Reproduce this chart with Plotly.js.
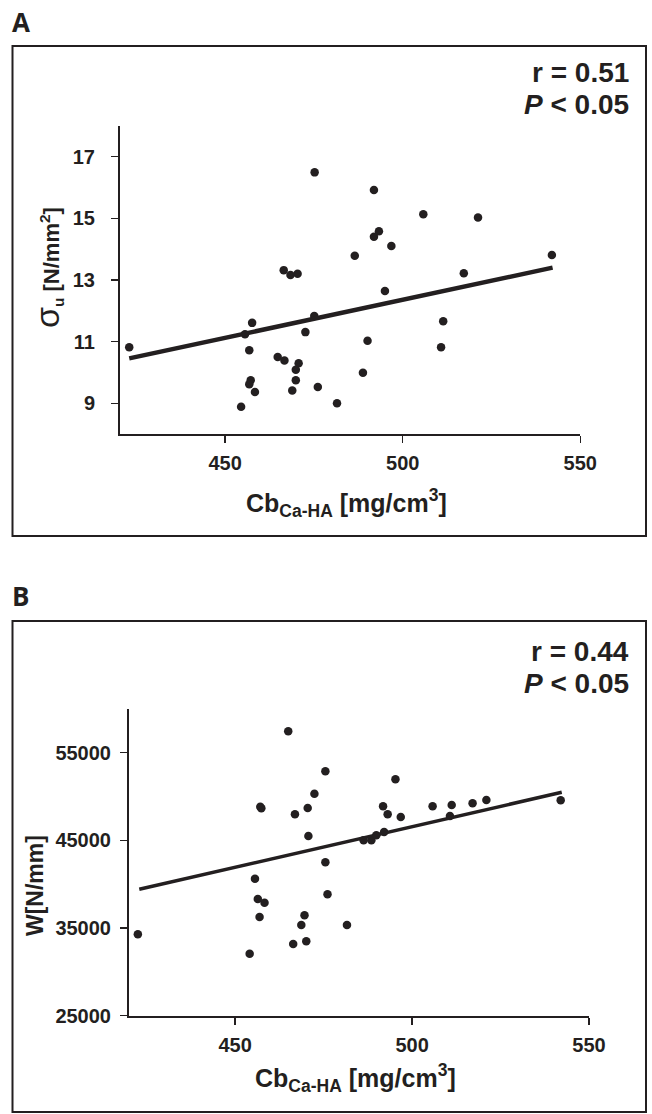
<!DOCTYPE html>
<html>
<head>
<meta charset="utf-8">
<script src="https://cdn.plot.ly/plotly-3.0.1.min.js"></script>
<style>html,body{margin:0;padding:0;background:#fff;}#chart{width:652px;height:1114px;}</style>
</head>
<body>
<div id="chart"></div>
<script>
// Panel A: ultimate stress vs Ca-HA density
var aX = [423.0,454.5,457.6,455.6,456.8,457.2,456.8,458.4,464.8,466.7,466.5,468.4,470.4,470.7,469.9,469.9,468.9,472.6,475.1,475.2,476.1,481.5,486.5,488.8,490.1,491.9,491.9,493.3,495.0,496.8,505.8,511.4,510.8,517.2,521.2,542.0];
var aY = [10.82,8.89,11.61,11.24,10.72,9.75,9.62,9.37,10.50,10.39,13.32,13.16,13.20,10.30,10.09,9.75,9.42,11.31,11.83,16.49,9.53,9.00,13.79,9.99,11.03,15.92,14.40,14.58,12.64,14.10,15.13,11.66,10.82,13.22,15.03,13.81];
var aFitX = [423.0, 542.2];
var aFitY = [10.46, 13.40];
var aTicksX = [450, 500, 550];
var aTickTextX = ['450', '500', '550'];
var aTicksY = [9, 11, 13, 15, 17];
var aTickTextY = ['9', '11', '13', '15', '17'];

// Panel B: W vs Ca-HA density
var bX = [422.5,454.1,465.0,457.1,457.4,455.6,456.4,458.3,456.9,466.9,470.5,472.4,475.5,470.7,475.5,476.1,469.6,468.7,466.4,470.1,481.6,486.3,488.5,489.9,492.1,491.8,493.1,495.3,496.8,505.8,510.7,511.2,517.1,521.0,542.0];
var bY = [34285,32072,57441,48841,48657,40628,38312,37890,36259,47973,48692,50324,52879,45498,42498,38848,36452,35346,33179,33487,35346,45008,45008,45578,45955,48886,47973,51966,47666,48886,47780,49034,49229,49605,49570];
var bFitX = [422.9, 542.3];
var bFitY = [39418, 50483];
var bTicksX = [450, 500, 550];
var bTickTextX = ['450', '500', '550'];
var bTicksY = [25000, 35000, 45000, 55000];
var bTickTextY = ['25000', '35000', '45000', '55000'];

var W = 652, H = 1114;
function px(x){ return x / W; }
function py(y){ return 1 - y / H; }
function bold(arr){ return arr.map(function(s){ return '<b>' + s + '</b>'; }); }

var INK = '#231f20';
var FONT = 'Liberation Sans, Arial, sans-serif';

var traces = [
  {x: aX, y: aY, type: 'scatter', mode: 'markers', xaxis: 'x', yaxis: 'y',
   marker: {size: 8.5, color: INK}, cliponaxis: false},
  {x: aFitX, y: aFitY, type: 'scatter', mode: 'lines', xaxis: 'x', yaxis: 'y',
   line: {color: INK, width: 4.5}, cliponaxis: false},
  {x: bX, y: bY, type: 'scatter', mode: 'markers', xaxis: 'x2', yaxis: 'y2',
   marker: {size: 8.5, color: INK}, cliponaxis: false},
  {x: bFitX, y: bFitY, type: 'scatter', mode: 'lines', xaxis: 'x2', yaxis: 'y2',
   line: {color: INK, width: 3.5}, cliponaxis: false}
];

function axisBase(){
  return {
    showgrid: false, zeroline: false, showline: true, linewidth: 2, linecolor: INK,
    ticks: 'outside', ticklen: 7, tickwidth: 1.5, tickcolor: INK,
    tickfont: {family: FONT, size: 20, color: INK},
    tickmode: 'array', fixedrange: true
  };
}

var xa = Object.assign(axisBase(), {domain: [px(120), px(580.3)], range: [420.4, 550], tickvals: aTicksX, ticktext: bold(aTickTextX), anchor: 'y', ticklabelstandoff: 3});
var ya = Object.assign(axisBase(), {domain: [py(434.2), py(125.8)], range: [8, 18], tickvals: aTicksY, ticktext: bold(aTickTextY), anchor: 'x', ticklabelstandoff: 12});
var xb = Object.assign(axisBase(), {domain: [px(129), px(589)], range: [420, 550], tickvals: bTicksX, ticktext: bold(bTickTextX), anchor: 'y2', ticklabelstandoff: 3});
var yb = Object.assign(axisBase(), {domain: [py(1015.7), py(708.9)], range: [25000, 60000], tickvals: bTicksY, ticktext: bold(bTickTextY), anchor: 'x2', ticklabelstandoff: 5});

var boxLine = {color: INK, width: 2};
function note(text, x, y, size, extra){
  return Object.assign({text: text, xref: 'paper', yref: 'paper', x: px(x), y: py(y),
    xanchor: 'center', yanchor: 'middle', showarrow: false,
    font: {family: FONT, size: size, color: INK}}, extra || {});
}

var layout = {
  width: W, height: H,
  margin: {l: 0, r: 0, t: 0, b: 0},
  paper_bgcolor: '#ffffff', plot_bgcolor: 'rgba(0,0,0,0)',
  showlegend: false,
  font: {family: FONT, color: INK},
  xaxis: xa, yaxis: ya, xaxis2: xb, yaxis2: yb,
  shapes: [
    {type: 'rect', xref: 'paper', yref: 'paper', x0: px(12.5), x1: px(646), y0: py(536), y1: py(46), line: boxLine},
    {type: 'rect', xref: 'paper', yref: 'paper', x0: px(12.5), x1: px(646), y0: py(1112), y1: py(621), line: boxLine}
  ],
  annotations: [
    note('<b>A</b>', 10, 22, 26, {xanchor: 'left', font: {family: 'Open Sans, Liberation Sans, sans-serif', size: 26, color: INK}}),
    note('<b>B</b>', 10, 596, 26, {xanchor: 'left', font: {family: 'Open Sans, Liberation Sans, sans-serif', size: 26, color: INK}}),
    note('<b>r = 0.51</b>', 631, 73, 28, {xanchor: 'right'}),
    note('<b><i>P</i> &lt; 0.05</b>', 631, 105, 28, {xanchor: 'right'}),
    note('<b>r = 0.44</b>', 631, 651, 28, {xanchor: 'right'}),
    note('<b><i>P</i> &lt; 0.05</b>', 631, 683, 28, {xanchor: 'right'}),
    note('<b>Cb<sub>Ca-HA</sub> [mg/cm<sup>3</sup>]</b>', 346, 503, 25),
    note('<b>Cb<sub>Ca-HA</sub> [mg/cm<sup>3</sup>]</b>', 355, 1078, 25),
    note('<span style="font-size:34px">σ</span><b><sub>u</sub> [N/mm<sup>2</sup>]</b>', 47, 268, 22, {textangle: -90}),
    note('<b>W[N/mm]</b>', 35, 886, 23, {textangle: -90})
  ]
};

Plotly.newPlot('chart', traces, layout, {staticPlot: true, displayModeBar: false});
</script>
</body>
</html>
